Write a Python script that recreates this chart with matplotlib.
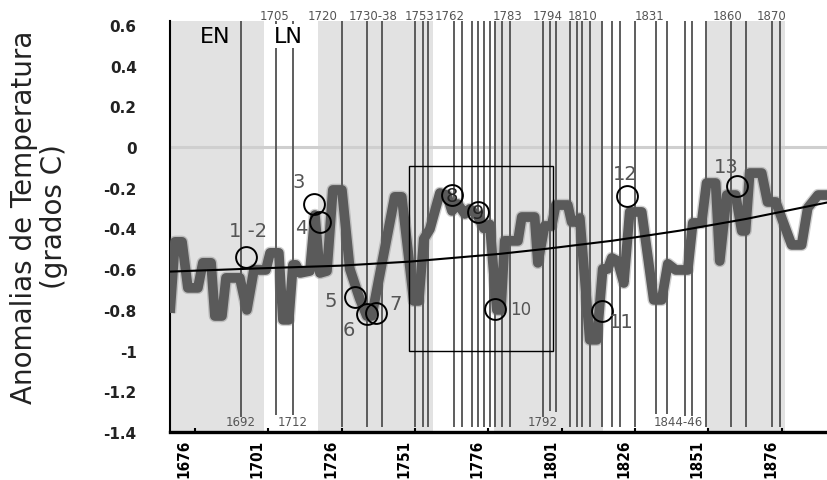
import matplotlib.pyplot as plt
from matplotlib import font_manager
from matplotlib.transforms import ScaledTranslation

# thick anomaly series (year, anomaly °C)
years = [1667.5, 1669.2, 1671.6, 1673.6, 1677.0, 1678.7, 1681.5, 1682.8, 1685.2, 1686.6,
         1691.3, 1693.7, 1696.1, 1700.2, 1701.6, 1704.6, 1706.0, 1708.0, 1709.4, 1710.4,
         1711.8, 1715.2, 1716.9, 1718.6, 1721.0, 1723.0, 1726.1, 1728.8, 1730.5, 1732.2,
         1734.6, 1736.3, 1744.1, 1746.5, 1750.6, 1752.3, 1754.0, 1756.1, 1759.5, 1761.9,
         1763.6, 1765.6, 1768.0, 1769.7, 1772.4, 1774.5, 1776.5, 1778.9, 1780.3, 1781.6,
         1786.1, 1787.4, 1791.8, 1792.9, 1795.2, 1797.6, 1799.0, 1803.1, 1804.4, 1806.5,
         1807.2, 1810.6, 1813.0, 1815.0, 1816.7, 1818.1, 1820.1, 1822.2, 1824.2, 1828.3,
         1832.4, 1835.1, 1837.2, 1839.9, 1844.0, 1845.7, 1848.7, 1850.4, 1853.5, 1854.9,
         1857.3, 1860.3, 1862.4, 1863.7, 1865.1, 1869.2, 1871.2, 1874.0, 1879.4, 1882.8,
         1884.9, 1888.4, 1891.8]
anomaly = [-0.815, -0.466, -0.466, -0.692, -0.692, -0.569, -0.569, -0.830, -0.830, -0.643,
           -0.643, -0.800, -0.604, -0.604, -0.520, -0.520, -0.849, -0.849, -0.579, -0.579,
           -0.619, -0.609, -0.334, -0.619, -0.609, -0.211, -0.211, -0.599, -0.673, -0.746,
           -0.830, -0.830, -0.245, -0.245, -0.756, -0.756, -0.452, -0.403, -0.226, -0.236,
           -0.314, -0.280, -0.329, -0.304, -0.340, -0.400, -0.380, -0.800, -0.800, -0.461,
           -0.461, -0.344, -0.344, -0.569, -0.388, -0.388, -0.285, -0.285, -0.368, -0.368,
           -0.349, -0.947, -0.947, -0.599, -0.599, -0.545, -0.560, -0.668, -0.319, -0.319,
           -0.751, -0.751, -0.574, -0.604, -0.604, -0.373, -0.373, -0.177, -0.177, -0.560,
           -0.236, -0.236, -0.412, -0.412, -0.128, -0.128, -0.270, -0.270, -0.481, -0.481,
           -0.299, -0.236, -0.236]

# smooth trend curve
trend_years = [1667.5, 1698.1, 1725.4, 1749.3, 1779.9, 1795.8, 1818.5, 1841.2, 1864.0, 1891.7]
trend_vals = [-0.612, -0.596, -0.583, -0.563, -0.525, -0.500, -0.460, -0.411, -0.353, -0.272]

# shaded periods
bands = [(1667.5, 1699.5), (1717.9, 1757.1), (1778.0, 1815.0), (1850.4, 1877.0)]

# vertical event lines
event_years = [1691.7, 1703.5, 1709.5, 1726.0, 1734.5, 1739.6, 1751.0, 1753.8, 1755.3, 1764.2,
               1766.9, 1770.6, 1772.5, 1774.5, 1776.5, 1778.2, 1780.8, 1783.3, 1794.7, 1796.9,
               1799.2, 1804.0, 1806.2, 1808.1, 1810.6, 1814.8, 1818.2, 1820.8, 1825.9, 1833.1,
               1836.9, 1843.2, 1845.4, 1850.3, 1858.9, 1864.0, 1872.7, 1875.3]
short_lines = {1691.7: -1.325, 1703.5: -1.316, 1709.5: -1.316, 1794.7: -1.325, 1796.9: -1.296,
               1799.2: -1.30, 1833.1: -1.31, 1836.9: -1.31, 1843.2: -1.32, 1845.4: -1.32}

top_labels = ["1705", "1720", "1730-38", "1753", "1762", "1783", "1794", "1810", "1831", "1860", "1870"]
top_label_x = [1703.3, 1719.6, 1736.6, 1752.7, 1762.9, 1782.6, 1796.3, 1808.2, 1831.0, 1857.6, 1872.6]
bottom_labels = ["1692", "1712", "1792", "1844-46"]
bottom_label_x = [1691.7, 1709.4, 1794.6, 1840.6]

# numbered circles
circle_names = ["1 -2", "3", "4", "5", "6", "7", "8", "9", "10", "11", "12", "13"]
circle_x = [1693.3, 1716.5, 1718.8, 1730.5, 1734.5, 1737.7, 1763.5, 1772.5, 1778.2, 1814.8, 1823.3, 1860.9]
circle_y = [-0.541, -0.280, -0.367, -0.738, -0.820, -0.815, -0.236, -0.321, -0.795, -0.804, -0.239, -0.190]
label_offsets = [(2, 19), (-11, 16), (-14, -4), (-17, -2), (-13, -11), (14, 7),
                 (0, 0), (0, 0), (19, 0), (14, -8), (-1, 16), (-8, 14)]

xticks = [1676, 1701, 1726, 1751, 1776, 1801, 1826, 1851, 1876]
yticks = [0.6, 0.4, 0.2, 0, -0.2, -0.4, -0.6, -0.8, -1, -1.2, -1.4]

# look for any narrow / condensed bold face for the year ticks
narrow = None
for entry in font_manager.fontManager.ttflist:
    squeezed = ('condensed' in str(entry.stretch) or 'Narrow' in entry.name
                or 'Condensed' in entry.name)
    heavy = entry.weight in ('bold', 'heavy', 'black') or (isinstance(entry.weight, int) and entry.weight >= 600)
    if squeezed and heavy:
        narrow = font_manager.FontProperties(fname=entry.fname, size=11)
        break
if narrow is None:
    narrow = font_manager.FontProperties(family='DejaVu Sans', weight='bold', size=9)

fig = plt.figure(figsize=(8.28, 4.81), dpi=100)
ax = fig.add_axes([170 / 828, 1 - 433 / 481, 658 / 828, 411 / 481])
ax.set_xlim(1667.5, 1891.8)
ax.set_ylim(-1.4, 0.619)

for a, b in bands:
    ax.axvspan(a, b, color='#e2e2e2', lw=0, zorder=0)
ax.axhline(0, color='#cfcfcf', lw=2.2, zorder=1)

bottoms = [short_lines.get(y, -1.375) for y in event_years]
ax.vlines(event_years, bottoms, 0.619, color='#505050', lw=1.3, zorder=2)

ax.plot(years, anomaly, color='#666666', lw=9, alpha=0.3, solid_joinstyle='round',
        solid_capstyle='butt', zorder=3)
ax.plot(years, anomaly, color='#5a5a5a', lw=7, solid_joinstyle='round',
        solid_capstyle='butt', zorder=4)
ax.plot(trend_years, trend_vals, color='black', lw=1.5, zorder=5)

ax.add_patch(plt.Rectangle((1749.0, -1.0), 49.1, 0.905, fill=False, ec='black', lw=1.0, zorder=6))

ax.plot(circle_x, circle_y, 'o', ms=15, mfc='none', mec='black', mew=1.4, zorder=7)
for name, cx, cy, off in zip(circle_names, circle_x, circle_y, label_offsets):
    if off == (0, 0):
        ax.text(cx, cy, name, fontsize=14, color='#222222', ha='center', va='center', zorder=8)
    else:
        size = 12 if name == "10" else 14
        ax.annotate(name, (cx, cy), xytext=off, textcoords='offset points', fontsize=size,
                    color='#555555', ha='center', va='center', zorder=8)

ax.text(1682.8, 0.545, "EN", fontsize=16, ha='center', va='center', zorder=8)
ax.text(1707.7, 0.545, "LN", fontsize=16, ha='center', va='center', zorder=8,
        bbox=dict(fc='white', ec='none', pad=1.5))

for t, x in zip(top_labels, top_label_x):
    ax.text(x, 0.648, t, fontsize=8.5, color='#555555', ha='center', va='center', clip_on=False)
for t, x in zip(bottom_labels, bottom_label_x):
    ax.text(x, -1.348, t, fontsize=8.5, color='#555555', ha='center', va='center', zorder=8)

ax.spines['top'].set_visible(False)
ax.spines['right'].set_visible(False)
ax.spines['bottom'].set_linewidth(2.4)
ax.spines['left'].set_linewidth(1.5)

ax.set_xticks(xticks)
ax.set_xticklabels([str(t) for t in xticks], rotation=90, fontproperties=narrow)
ax.tick_params(axis='x', direction='in', length=3, width=1.5, pad=5)
for lbl in ax.get_xticklabels():
    lbl.set_transform(lbl.get_transform() + ScaledTranslation(-0.11, 0, fig.dpi_scale_trans))

ax.set_yticks(yticks)
ax.set_yticklabels(["0.6", "0.4", "0.2", "0", "-0.2", "-0.4", "-0.6", "-0.8", "-1", "-1.2", "-1.4"],
                   fontweight='bold', fontsize=11, color='#222222')
ax.tick_params(axis='y', length=0, pad=24)

fig.text(39 / 828, 1 - 217 / 481, "Anomalias de Temperatura\n(grados C)", rotation=90,
         fontsize=20, ha='center', va='center', color='#222222', linespacing=1.05)

fig.savefig("out.png", dpi=100)
